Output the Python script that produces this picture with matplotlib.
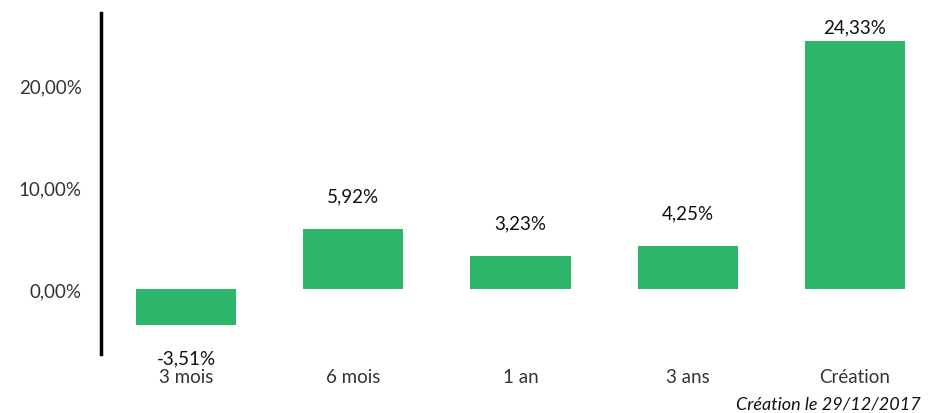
import matplotlib
matplotlib.use('Agg')
import matplotlib.pyplot as plt
from matplotlib.ticker import FuncFormatter

periods = ['3 mois', '6 mois', '1 an', '3 ans', 'Création']
perf = [-3.51, 5.92, 3.23, 4.25, 24.33]
yticks = [0, 10, 20]
footnote = 'Création le 29/12/2017'

plt.rcParams['font.family'] = ['Lato', 'DejaVu Sans']

fig = plt.figure(figsize=(9.39, 4.14), dpi=100)
ax = fig.add_axes([0.1076, 0.1425, 0.8924, 0.8237])

x = list(range(len(periods)))
ax.bar(x, perf, width=0.6, color='#2db56b')

ax.set_xlim(-0.508, 4.502)
ax.set_ylim(-6.37, 27.06)

def fr_pct(v, pos=None):
    return f'{v:.2f}%'.replace('.', ',')

ax.set_yticks(yticks)
ax.yaxis.set_major_formatter(FuncFormatter(fr_pct))
ax.set_xticks(x)
ax.set_xticklabels(periods)
ax.tick_params(axis='both', length=0, labelsize=13.5, colors='#333333')
ax.tick_params(axis='y', pad=14)
ax.tick_params(axis='x', pad=10)

for side in ['top', 'right', 'bottom']:
    ax.spines[side].set_visible(False)
ax.spines['left'].set_linewidth(2.5)
ax.spines['left'].set_color('black')

# value labels, kept inside the plot area
ymax = ax.get_ylim()[1]
for xi, v in zip(x, perf):
    if v >= 0:
        ly = min(v + 3.24, ymax - 1.37)
    else:
        ly = v - 3.24
    ax.text(xi, ly, fr_pct(v), ha='center', va='center', fontsize=13.5, color='#111111')

fig.text(0.981, 0.022, footnote, ha='right', va='center', fontsize=13,
         style='italic', color='#111111')

fig.savefig('out.png', dpi=100)
